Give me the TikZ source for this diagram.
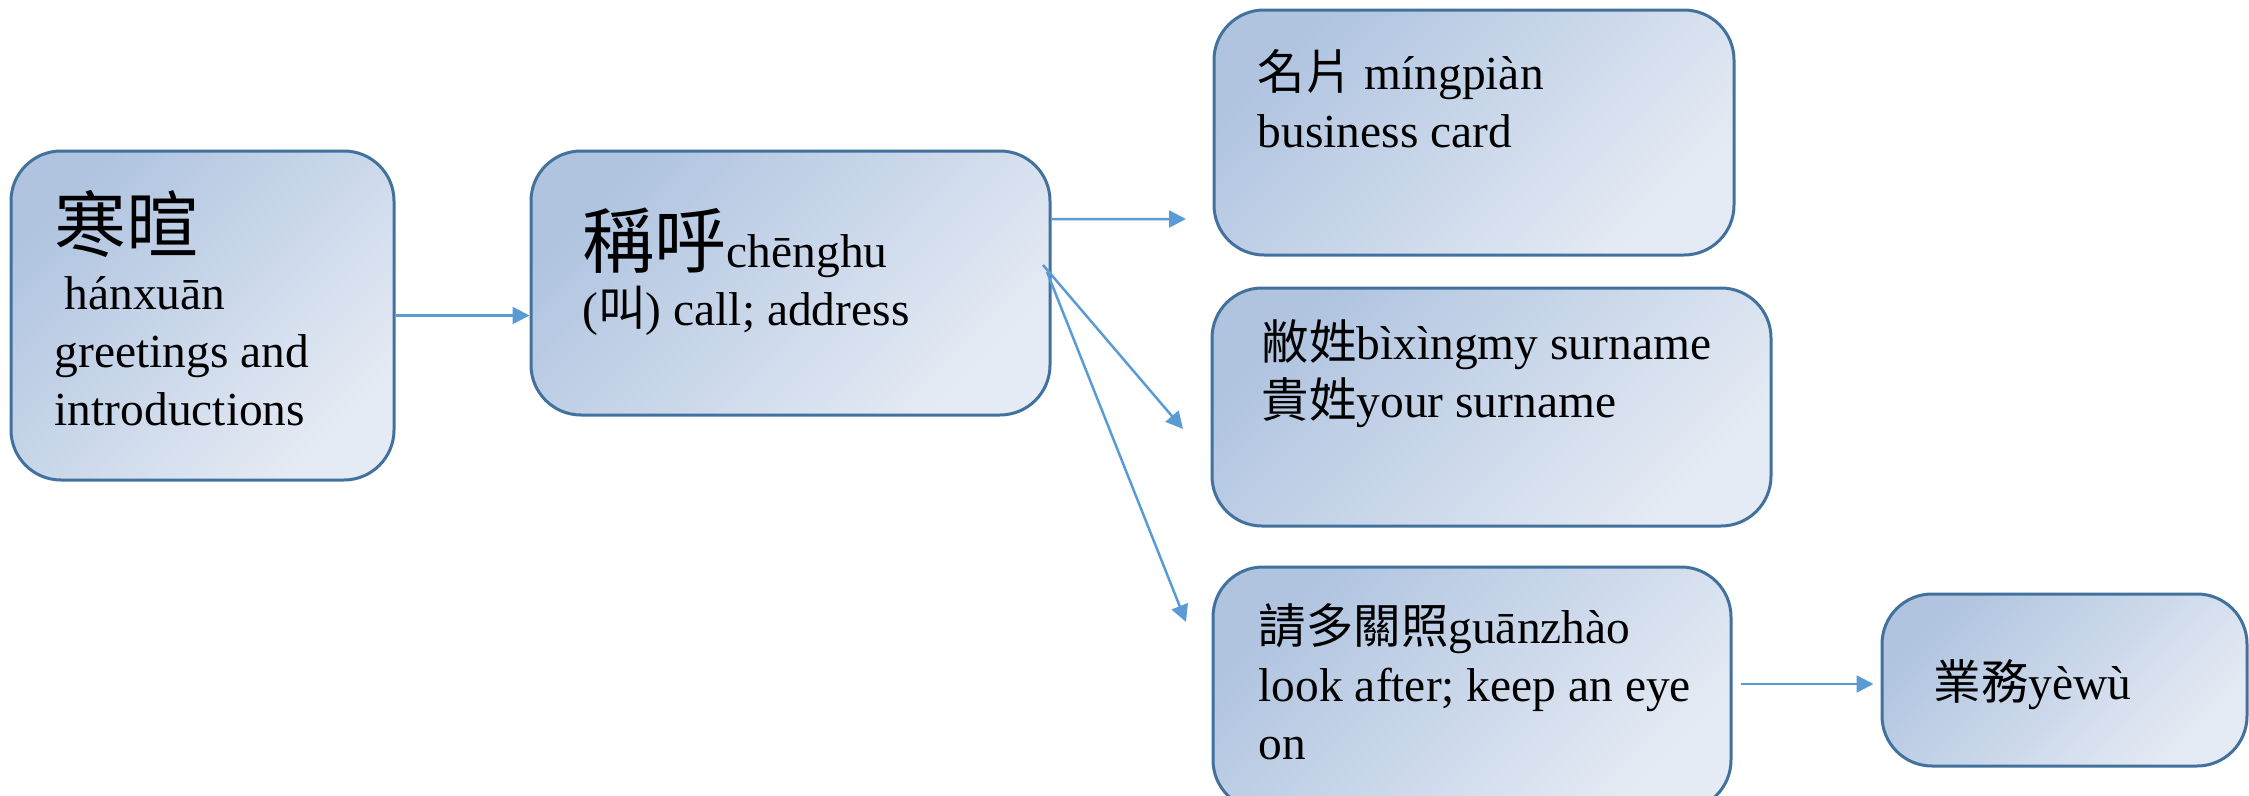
\documentclass[tikz,border=0pt]{standalone}
\usepackage{fontspec}
\setmainfont{Liberation Serif}
\newfontfamily\cjk{Noto Sans CJK TC}
\usepackage{tikz}
\usetikzlibrary{arrows.meta, positioning, calc}

\definecolor{cardtop}{RGB}{176,196,224}
\definecolor{cardbot}{RGB}{229,235,244}
\definecolor{cardline}{RGB}{65,113,156}
\definecolor{arrowblue}{RGB}{91,155,213}

\tikzset{
  card/.style={draw=cardline, line width=0.3mm, rounded corners=5mm,
    top color=cardtop, bottom color=cardbot, shading angle=45, inner sep=0pt},
  txt/.style={anchor=north west, align=left, inner sep=0pt,
    font=\fontsize{13.5}{16.5}\selectfont},
  link/.style={draw=arrowblue, line width=0.25mm, -{Triangle[length=1.7mm, width=1.7mm]}}
}

\begin{document}
\begin{tikzpicture}[x=0.1mm, y=-0.1mm]
\useasboundingbox (0,0) rectangle (2249,796);

% Boxes
\node[card, minimum width=38.3mm, minimum height=32.9mm] (hanxuan) at (202.5,315.5) {};
\node[card, minimum width=51.9mm, minimum height=26.4mm] (chenghu) at (790.5,283) {};
\node[card, minimum width=52mm, minimum height=24.5mm] (mingpian) at (1474,132.5) {};
\node[card, minimum width=55.9mm, minimum height=23.8mm] (xingshi) at (1491.5,407) {};
\node[card, minimum width=51.8mm, minimum height=24.3mm] (guanzhao) at (1472,688.5) {};
\node[card, minimum width=36.5mm, minimum height=17.2mm] (yewu) at (2064.5,680) {};

% Texts
\node[txt] (hanxuanT) at (54,190) {{\cjk\fontsize{20.5}{22}\selectfont 寒暄}\\
\hspace*{1mm}hánxuān\\
greetings and\\
introductions};
\node[txt] (chenghuT) at (582,207) {{\cjk\fontsize{20.5}{22}\selectfont 稱呼}chēnghu\\
({\cjk 叫}) call; address};
\node[txt] (mingpianT) at (1257,49) {{\cjk 名片} míngpiàn\\
business card};
\node[txt] (xingshiT) at (1261,319) {{\cjk 敝姓}bìxìngmy surname\\
{\cjk 貴姓}your surname};
\node[txt] (guanzhaoT) at (1258,603) {{\cjk 請多關照}guānzhào\\
look after; keep an eye\\
on};
\node[txt] (yewuT) at (1933,659) {{\cjk 業務}yèwù};

% Arrow ends
\coordinate (toC) at (1186,219);
\coordinate (forkD) at (1043,265);
\coordinate (toD) at (1183,429);
\coordinate (forkE) at (1047,272);
\coordinate (toE) at (1186,622);

% Connectors
\draw[link] (hanxuan.east) -- (hanxuan.east -| chenghu.west);
\draw[link] ([yshift=6.4mm]chenghu.east) -- (toC);
\draw[link] (forkD) -- (toD);
\draw[link] (forkE) -- (toE);
\draw[link] ([xshift=0.8mm, yshift=0.45mm]guanzhao.east) -- ([xshift=-0.7mm, yshift=0.45mm]guanzhao.east -| yewu.west);

\end{tikzpicture}
\end{document}
